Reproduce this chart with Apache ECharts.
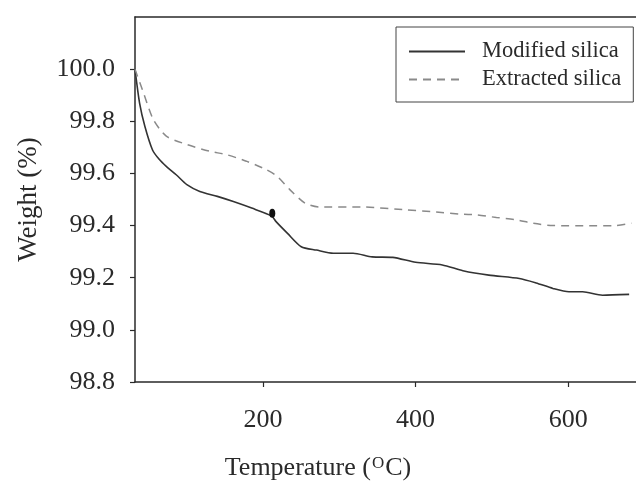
<!DOCTYPE html>
<html>
<head>
<meta charset="utf-8">
<script src="https://cdn.jsdelivr.net/npm/echarts@6/dist/echarts.min.js"></script>
<style>
  html, body { margin: 0; padding: 0; background: #fff; }
  #chart { width: 636px; height: 483px; }
</style>
</head>
<body>
<div id="chart"></div>
<script>
// TGA weight-loss curves of the two silica samples
const tempModified = [32, 38, 45, 55, 64, 73, 86, 100, 117, 140, 161, 185, 211, 217, 232, 250, 270, 292, 318, 343, 370, 400, 435, 462, 496, 536, 558, 580, 601, 619, 645, 680];
const weightModified = [100.0, 99.87, 99.78, 99.69, 99.653, 99.627, 99.595, 99.557, 99.531, 99.512, 99.492, 99.467, 99.437, 99.415, 99.37, 99.319, 99.306, 99.294, 99.294, 99.28, 99.278, 99.259, 99.249, 99.227, 99.21, 99.197, 99.18, 99.159, 99.146, 99.146, 99.133, 99.136];

const tempExtracted = [32, 43, 56, 73, 100, 130, 152, 178, 204, 218, 235, 255, 274, 331, 388, 427, 458, 480, 506, 532, 554, 580, 633, 659, 683];
const weightExtracted = [100.0, 99.91, 99.807, 99.743, 99.711, 99.685, 99.672, 99.647, 99.615, 99.59, 99.538, 99.486, 99.471, 99.471, 99.46, 99.452, 99.444, 99.441, 99.431, 99.422, 99.409, 99.40, 99.399, 99.399, 99.409];

// single highlighted point on the modified-silica curve
const modifiedMarker = [212, 99.447];

const xTicks = [200, 400, 600];
const yTicks = [98.8, 99.0, 99.2, 99.4, 99.6, 99.8, 100.0];

const seriesNames = ['Modified silica', 'Extracted silica'];

const serif = '"Liberation Serif", "Times New Roman", serif';
const ink = '#2a2a2a';

const pairs = (xs, ys) => xs.map((x, i) => [x, ys[i]]);

const chart = echarts.init(document.getElementById('chart'), null, { renderer: 'canvas' });

chart.setOption({
  animation: false,
  backgroundColor: '#fff',
  title: {
    text: 'Temperature ({sup|O}C)',
    left: 'center',
    top: 455,
    padding: 0,
    textStyle: {
      fontFamily: serif,
      fontSize: 26,
      fontWeight: 'normal',
      color: ink,
      rich: {
        sup: { fontFamily: serif, fontSize: 17, color: ink, verticalAlign: 'top', padding: [0, 1, 8, 1] }
      }
    }
  },
  legend: {
    data: seriesNames,
    orient: 'vertical',
    left: 396,
    top: 27,
    padding: [13, 12, 11, 12],
    itemGap: 5,
    itemWidth: 56,
    itemHeight: 14,
    borderColor: '#444',
    borderWidth: 1,
    backgroundColor: '#fff',
    itemStyle: { opacity: 0 },
    textStyle: { fontFamily: serif, fontSize: 22.5, color: ink, padding: [0, 0, 0, 12] }
  },
  grid: { left: 135, top: 17, right: 0, bottom: 101, containLabel: false },
  xAxis: [
    {
      type: 'value',
      min: 32,
      max: 689,
      axisLine: { show: true, lineStyle: { color: ink, width: 1.5 } },
      axisTick: { show: true, inside: false, length: 5, customValues: xTicks, lineStyle: { color: ink, width: 1.2 } },
      axisLabel: { customValues: xTicks, margin: 25, fontFamily: serif, fontSize: 26, color: ink },
      splitLine: { show: false }
    },
    {
      type: 'value',
      position: 'top',
      min: 32,
      max: 689,
      axisLine: { show: true, lineStyle: { color: ink, width: 1.5 } },
      axisTick: { show: false },
      axisLabel: { show: false },
      splitLine: { show: false }
    }
  ],
  yAxis: {
    type: 'value',
    min: 98.8,
    max: 100.2,
    name: 'Weight (%)',
    nameLocation: 'middle',
    nameGap: 93,
    nameTextStyle: { fontFamily: serif, fontSize: 27, color: ink },
    axisLine: { show: true, lineStyle: { color: ink, width: 1.5 } },
    axisTick: { show: true, length: 5, customValues: yTicks, lineStyle: { color: ink, width: 1.2 } },
    axisLabel: {
      customValues: yTicks,
      margin: 20,
      fontFamily: serif,
      fontSize: 26,
      color: ink,
      formatter: v => v.toFixed(1)
    },
    splitLine: { show: false }
  },
  series: [
    {
      name: seriesNames[0],
      type: 'line',
      data: pairs(tempModified, weightModified),
      showSymbol: false,
      symbol: 'none',
      smooth: 0.25,
      lineStyle: { color: '#333', width: 1.6 },
      itemStyle: { color: '#333' },
      markPoint: {
        symbol: 'circle',
        symbolSize: [6, 9],
        label: { show: false },
        itemStyle: { color: '#111', opacity: 1 },
        data: [{ coord: modifiedMarker }]
      }
    },
    {
      name: seriesNames[1],
      type: 'line',
      data: pairs(tempExtracted, weightExtracted),
      showSymbol: false,
      symbol: 'none',
      smooth: 0.25,
      lineStyle: { color: '#8a8a8a', width: 1.5, type: [8, 6] },
      itemStyle: { color: '#8a8a8a' }
    }
  ]
});
</script>
</body>
</html>
